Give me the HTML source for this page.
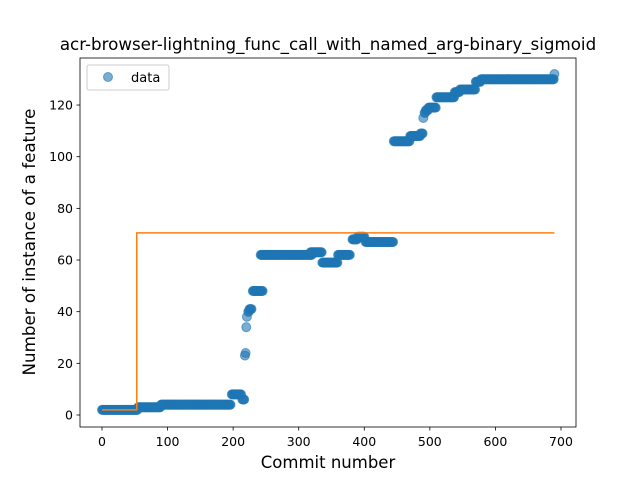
<!DOCTYPE html>
<html><head><meta charset="utf-8"><style>
body{margin:0;background:#fff}
svg text{font-family:"DejaVu Sans","Liberation Sans",sans-serif;fill:#000}
</style></head><body>
<svg id="chart" width="640" height="480">
<rect x="80" y="58" width="496" height="369" fill="#fff" stroke="none"/>
<text x="328" y="50" font-size="16.7" text-anchor="middle">acr-browser-lightning_func_call_with_named_arg-binary_sigmoid</text>
<g id="marks"></g>
<g id="axes"></g>
<rect x="80" y="58" width="496" height="369" fill="none" stroke="#000" stroke-width="0.8"/>
<text x="328" y="468" font-size="16.5" text-anchor="middle">Commit number</text>
<text x="35" y="242" font-size="16.7" text-anchor="middle" transform="rotate(-90 35 242)">Number of instance of a feature</text>
<g>
<rect x="87" y="65" width="82" height="25" rx="2" fill="#fff" fill-opacity="0.8" stroke="#ccc"/>
<circle cx="108" cy="77" r="4.5" fill="#1f77b4" fill-opacity="0.6" stroke="#1f77b4" stroke-opacity="0.6"/>
<text x="131" y="82" font-size="13">data</text>
</g>
</svg>
<script>
const runStarts = [0,55,90,198,214,218,219,220,221,223,225,230,242,318,336,360,382,390,402,445,470,486,490,492,494,498,510,528,538,546,570,578,690];
const runEnds   = [54,89,196,212,217,218,219,220,221,224,228,245,320,335,359,378,389,400,444,469,485,489,490,493,497,509,527,537,545,569,577,689,690];
const runValues = [2,3,4,8,6,23,24,34,38,40,41,48,62,63,59,62,68,69,67,106,108,109,115,117,118,119,123,123,125,126,129,130,132];
const baseX = [0,53,53,690];
const baseY = [2,2,70.5,70.5];
const xTicks = [0,100,200,300,400,500,600,700];
const yTicks = [0,20,40,60,80,100,120];
const NS='http://www.w3.org/2000/svg';
function sx(v){return 102+v*0.6557;}
function sy(v){return 415-v*2.583;}
const marks=document.getElementById('marks');
for(let r=0;r<runStarts.length;r++){
  for(let c=runStarts[r];c<=runEnds[r];c++){
    const el=document.createElementNS(NS,'circle');
    el.setAttribute('cx',sx(c));el.setAttribute('cy',sy(runValues[r]));el.setAttribute('r',4.5);
    el.setAttribute('fill','#1f77b4');el.setAttribute('fill-opacity','0.6');
    el.setAttribute('stroke','#1f77b4');el.setAttribute('stroke-opacity','0.6');
    
    
    marks.appendChild(el);
  }
}
const line=document.createElementNS(NS,'polyline');
line.setAttribute('points',baseX.map((x,i)=>sx(x)+','+sy(baseY[i])).join(' '));
line.setAttribute('fill','none');line.setAttribute('stroke','#ff7f0e');line.setAttribute('stroke-width','1.5');


marks.appendChild(line);
const axes=document.getElementById('axes');
xTicks.forEach(t=>{
  const l=document.createElementNS(NS,'line');
  l.setAttribute('x1',sx(t));l.setAttribute('x2',sx(t));l.setAttribute('y1',427);l.setAttribute('y2',430.5);l.setAttribute('stroke','#000');l.setAttribute('stroke-width','0.8');
  
  
  axes.appendChild(l);
  const tx=document.createElementNS(NS,'text');
  tx.setAttribute('x',sx(t));tx.setAttribute('y',446);tx.setAttribute('font-size','12.5');tx.setAttribute('text-anchor','middle');tx.textContent=t;
  
  
  axes.appendChild(tx);
});
yTicks.forEach(t=>{
  const l=document.createElementNS(NS,'line');
  l.setAttribute('x1',76.5);l.setAttribute('x2',80);l.setAttribute('y1',sy(t));l.setAttribute('y2',sy(t));l.setAttribute('stroke','#000');l.setAttribute('stroke-width','0.8');
  
  
  axes.appendChild(l);
  const tx=document.createElementNS(NS,'text');
  tx.setAttribute('x',73);tx.setAttribute('y',sy(t)+4.5);tx.setAttribute('font-size','12.5');tx.setAttribute('text-anchor','end');tx.textContent=t;
  
  
  axes.appendChild(tx);
});
</script>
</body></html>
